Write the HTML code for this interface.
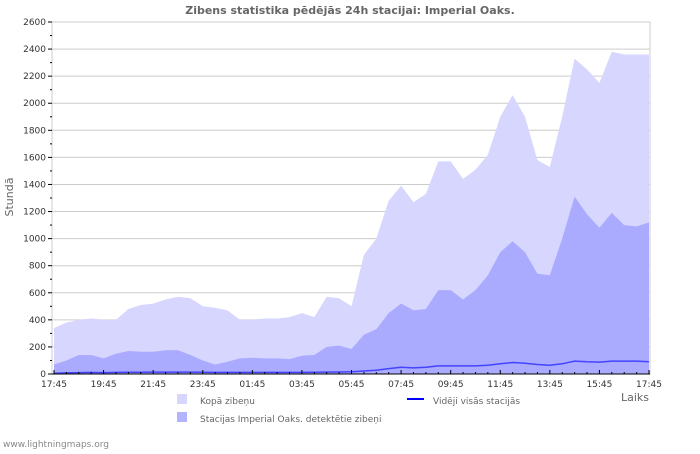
<!DOCTYPE html>
<html><head><meta charset="utf-8"><style>
body{margin:0;background:#fff;width:700px;height:450px;overflow:hidden;font-family:"DejaVu Sans","Liberation Sans",sans-serif}
svg text{font-family:"DejaVu Sans","Liberation Sans",sans-serif}
</style></head><body>
<svg id="chart" width="700" height="450" xmlns="http://www.w3.org/2000/svg">
<text x="350" y="14" text-anchor="middle" font-size="11" font-weight="bold" fill="#666">Zibens statistika pēdējās 24h stacijai: Imperial Oaks.</text>
<rect x="52" y="22" width="598" height="352" fill="#fff" stroke="#ccc"/>
<g id="grid"></g><g id="series"></g><g id="axes"></g>
<text transform="translate(13,197) rotate(-90)" text-anchor="middle" font-size="11" fill="#666">Stundā</text>
<text x="621" y="401" font-size="11" fill="#666">Laiks</text>
<rect x="177" y="394" width="10" height="10" fill="#d6d6ff"/>
<text x="200" y="404" font-size="9" fill="#666">Kopā zibeņu</text>
<rect x="177" y="412" width="10" height="10" fill="#b3b3ff"/>
<text x="200" y="422" font-size="9" fill="#666">Stacijas Imperial Oaks. detektētie zibeņi</text>
<line x1="407" y1="399" x2="424" y2="399" stroke="#0000ff" stroke-width="2"/>
<text x="433" y="404" font-size="9" fill="#666">Vidēji visās stacijās</text>
<text x="3" y="447" font-size="9" fill="#888">www.lightningmaps.org</text>
</svg>
<script>
const xLabels=["17:45","19:45","21:45","23:45","01:45","03:45","05:45","07:45","09:45","11:45","13:45","15:45","17:45"];
const yTicks=[0,200,400,600,800,1000,1200,1400,1600,1800,2000,2200,2400,2600];
const totalValues=[340,380,400,410,400,400,480,510,520,550,570,560,500,490,470,400,400,410,410,420,450,420,570,560,500,880,1000,1280,1390,1270,1330,1570,1570,1440,1510,1620,1900,2060,1900,1580,1530,1900,2330,2250,2150,2380,2360,2360,2360];
const stationValues=[70,100,140,140,115,150,170,165,165,175,175,140,100,70,90,115,120,115,115,110,135,140,200,210,185,290,330,450,520,470,480,620,620,550,620,730,900,980,900,740,730,1000,1310,1180,1080,1190,1100,1090,1120];
const avgValues=[5,8,10,12,10,12,13,13,14,14,14,14,13,12,12,12,12,12,12,12,12,13,14,15,16,22,28,40,50,45,50,60,60,60,60,65,75,85,80,70,65,75,95,90,88,95,95,95,90];
const X0=52,X1=650,Y0=374,Y1=22,YMAX=2600;
const n=totalValues.length;
const xs=i=>X0+2+(X1-X0-3)*i/(n-1);
const ys=v=>Y0-(Y0-Y1)*v/YMAX;
const NS="http://www.w3.org/2000/svg";
function mk(tag,attrs,parent){const e=document.createElementNS(NS,tag);for(const k in attrs)e.setAttribute(k,attrs[k]);parent.appendChild(e);return e;}
const grid=document.getElementById('grid'),ser=document.getElementById('series'),ax=document.getElementById('axes');
yTicks.forEach((v,i)=>{
 if(v>0){const g=mk('line',{x1:X0,x2:X1,y1:ys(v),y2:ys(v),stroke:'#ccc'},grid);
 
 }
 const t=mk('text',{x:X0-6,y:ys(v)+3,'text-anchor':'end','font-size':'9',fill:'#333'},ax);t.textContent=v;
 
 
 mk('line',{x1:X0-4,x2:X0,y1:ys(v),y2:ys(v),stroke:'#000'},ax);
 if(v<YMAX)mk('line',{x1:X0-2,x2:X0,y1:ys(v+100),y2:ys(v+100),stroke:'#000'},ax);
});
function area(vals,fill,name){
 let d='M'+xs(0)+','+Y0;vals.forEach((v,i)=>{d+=' L'+xs(i).toFixed(1)+','+ys(v).toFixed(1);});d+=' L'+xs(n-1)+','+Y0+' Z';
 const p=mk('path',{d:d,fill:fill},ser);
 
 
}
area(totalValues,'#d6d6ff','total-area');
area(stationValues,'#aaaaff','station-area');
let d='';avgValues.forEach((v,i)=>{d+=(i?' L':'M')+xs(i).toFixed(1)+','+ys(v).toFixed(1);});
const ln=mk('path',{d:d,fill:'none',stroke:'#4444ff','stroke-width':1.5},ser);


const hourW=(X1-X0-3)/24;
for(let k=0;k<=48;k++){const x=X0+2+hourW*k/2;mk('line',{x1:x,x2:x,y1:Y0,y2:Y0-(k%4==0?4:2),stroke:'#000'},ax);}
xLabels.forEach((l,i)=>{const t=mk('text',{x:X0+2+hourW*2*i,y:387,'text-anchor':'middle','font-size':'9',fill:'#333'},ax);t.textContent=l;
 
 });
mk('line',{x1:X0,x2:X1,y1:Y0,y2:Y0,stroke:'#000'},ax);
</script>
</body></html>
